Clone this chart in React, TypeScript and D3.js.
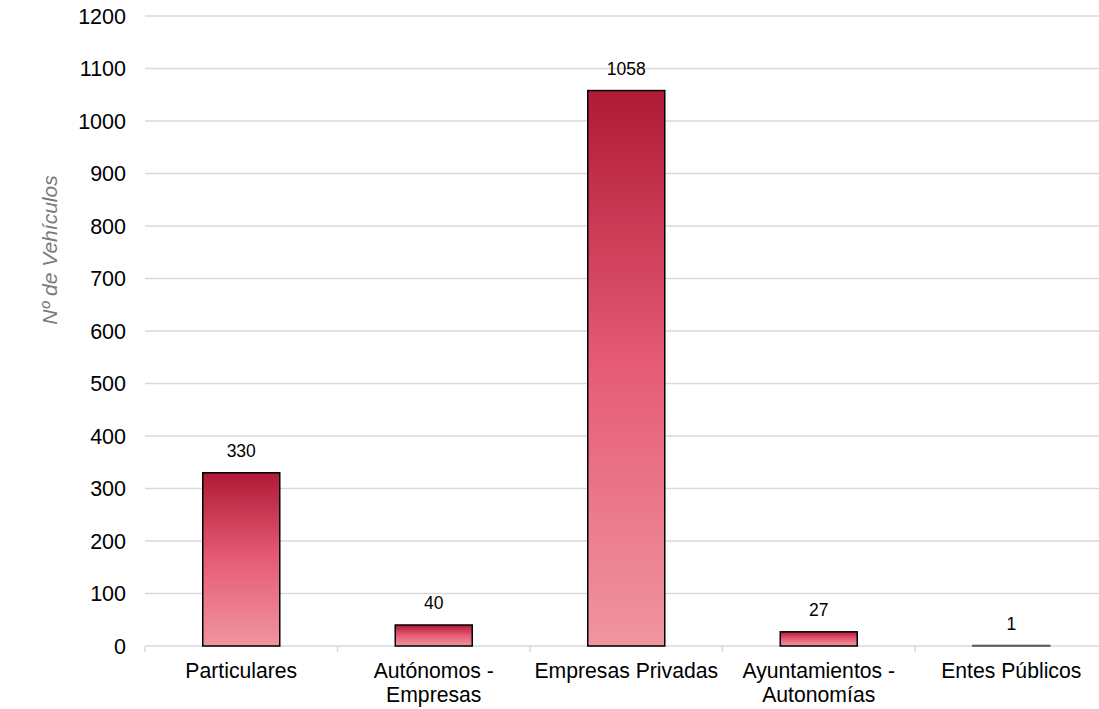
import React from "react";
import * as d3 from "d3";

const categories: string[][] = [
  ["Particulares"],
  ["Autónomos -", "Empresas"],
  ["Empresas Privadas"],
  ["Ayuntamientos -", "Autonomías"],
  ["Entes Públicos"],
];
const values: number[] = [330, 40, 1058, 27, 1];
const yTicks: number[] = [0, 100, 200, 300, 400, 500, 600, 700, 800, 900, 1000, 1100, 1200];
const yTitle = "Nº de  Vehículos";

const W = 1099;
const H = 709;
const left = 145;
const right = 1107.5;
const top = 16;
const bottom = 646;
const font = "'Liberation Sans', Arial, sans-serif";

export default function App() {
  const x = d3
    .scaleBand<number>()
    .domain(values.map((_, i) => i))
    .range([left, right])
    .paddingInner(0.6)
    .paddingOuter(0.3);
  const xb = d3.scaleBand<number>().domain(values.map((_, i) => i)).range([left, right]);
  const y = d3.scaleLinear().domain([0, 1200]).range([bottom, top]);

  return (
    <svg width={W} height={H} style={{ position: "absolute", left: 0, top: 0 }}>
      <defs>
        <linearGradient id="barGrad" x1="0" y1="0" x2="0" y2="1">
          <stop offset="0%" stopColor="#b01a36" />
          <stop offset="50%" stopColor="#e65c76" />
          <stop offset="100%" stopColor="#f0959f" />
        </linearGradient>
      </defs>
      {yTicks.map((t) => (
        <g key={t}>
          <line x1={left} x2={right} y1={y(t)} y2={y(t)} stroke="#d9d9d9" strokeWidth={1.5} />
          <text
            x={126}
            y={y(t)}
            dy="0.35em"
            textAnchor="end"
            fontFamily={font}
            fontSize={21.5}
            fill="#000"
          >
            {t}
          </text>
        </g>
      ))}
      {values.map((_, i) => (
        <line
          key={"tk" + i}
          x1={xb(i)!}
          x2={xb(i)!}
          y1={bottom}
          y2={bottom + 6}
          stroke="#d9d9d9"
          strokeWidth={1.5}
        />
      ))}
      <line x1={right} x2={right} y1={bottom} y2={bottom + 6} stroke="#d9d9d9" strokeWidth={1.5} />
      {values.map((v, i) => {
        const h = bottom - y(v);
        return (
          <g key={"b" + i}>
            <rect
              x={x(i)!}
              y={y(v)}
              width={x.bandwidth()}
              height={Math.max(h, 0.5)}
              fill="url(#barGrad)"
              stroke={v < 5 ? "#555" : "#000"}
              strokeWidth={1.5}
            />
            <text
              x={x(i)! + x.bandwidth() / 2}
              y={y(v) - 22}
              dy="0.35em"
              textAnchor="middle"
              fontFamily={font}
              fontSize={17.5}
              fill="#000"
            >
              {v}
            </text>
            {categories[i].map((line, j) => (
              <text
                key={j}
                x={x(i)! + x.bandwidth() / 2}
                y={671 + j * 24}
                dy="0.35em"
                textAnchor="middle"
                fontFamily={font}
                fontSize={21.2}
                fill="#000"
              >
                {line}
              </text>
            ))}
          </g>
        );
      })}
      <text
        transform={`translate(50, 250) rotate(-90)`}
        textAnchor="middle"
        dy="0.35em"
        fontFamily={font}
        fontSize={21}
        fontStyle="italic"
        fill="#7a7a7a"
      >
        {yTitle}
      </text>
    </svg>
  );
}
